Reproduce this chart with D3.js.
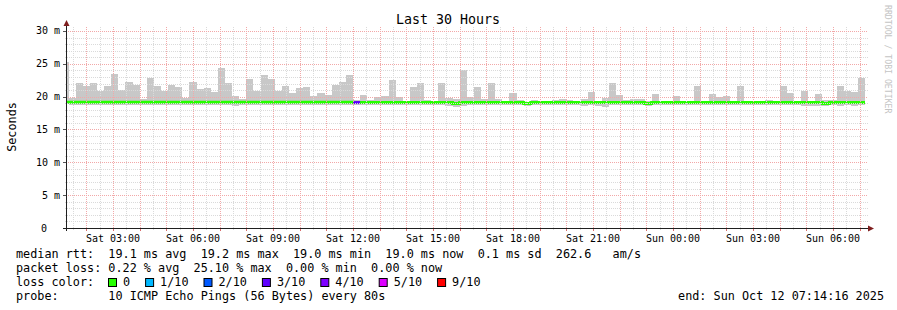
<!DOCTYPE html>
<html>
<head>
<meta charset="utf-8">
<script src="https://cdn.jsdelivr.net/npm/d3@7"></script>
<style>
  body { margin: 0; background: #fff; }
  svg text { font-family: "DejaVu Sans Mono", monospace; white-space: pre; }
</style>
</head>
<body>
<div id="chart"></div>
<script>
(function (d3) {
  'use strict';

  const width = 897;
  const height = 310;

  // time window and 16 minute consolidation bins
  const viewStart = new Date(2025, 9, 11, 1, 14, 16);
  const viewEnd = new Date(2025, 9, 12, 7, 14, 16);
  const binStart = new Date(2025, 9, 11, 1, 4, 0);
  const binMinutes = 16;

  // rtt in ms per bin
  const maxRtt = [25.3,
    19.84, 22.1, 21.6, 22.1, 20.9, 21.6, 23.45, 21.0, 22.2, 21.8,
    19.6, 22.9, 21.6, 20.9, 21.8, 21.5, 19.8, 22.2, 21.2, 21.3,
    20.7, 24.4, 22.1, 20.1, 19.7, 22.7, 20.9, 23.3, 22.7, 20.9,
    21.6, 20.6, 21.3, 21.5, 20.1, 20.6, 20.3, 21.8, 22.2, 23.3,
    19.5, 20.25, 19.5, 19.95, 20.1, 22.5, 19.95, 19.3, 21.5, 22.1,
    19.5, 19.3, 22.1, 19.8, 19.6, 24.1, 19.9, 21.5, 19.6, 22.1,
    19.6, 19.3, 20.6, 19.5, 19.2, 19.5, 19.3, 19.3, 19.5, 19.6,
    19.5, 19.3, 19.6, 20.7, 19.3, 19.8, 22.1, 20.25, 19.5, 19.6,
    19.6, 19.3, 20.4, 19.3, 19.2, 20.1, 19.3, 19.2, 21.6, 19.3,
    20.4, 19.95, 20.1, 19.3, 21.6, 19.3, 19.3, 19.2, 19.5, 19.2,
    21.6, 20.6, 19.2, 20.9, 19.3, 20.4, 19.5, 19.5, 21.6, 20.9,
    20.7, 22.8];

  const medianRtt = [19.15,
    19.15, 19.15, 19.15, 19.15, 19.15, 19.15, 19.15, 19.15, 19.15, 19.15,
    19.15, 19.15, 19.15, 19.15, 19.15, 19.15, 19.15, 19.15, 19.15, 19.15,
    19.15, 19.15, 19.15, 19.15, 19.15, 19.15, 19.15, 19.15, 19.15, 19.15,
    19.15, 19.15, 19.15, 19.15, 19.15, 19.15, 19.15, 19.15, 19.15, 19.15,
    19.1, 19.1, 19.1, 19.1, 19.1, 19.1, 19.1, 19.1, 19.1, 19.1,
    19.1, 19.1, 19.1, 19.1, 18.95, 19.1, 19.1, 19.1, 19.1, 19.1,
    19.1, 19.1, 19.1, 19.1, 18.95, 19.1, 19.1, 19.1, 19.1, 19.1,
    19.1, 19.1, 19.1, 19.1, 19.1, 19.1, 19.1, 19.1, 19.1, 19.1,
    19.1, 18.95, 19.1, 19.1, 19.1, 19.1, 19.1, 19.1, 19.1, 19.1,
    19.1, 19.1, 19.1, 19.1, 19.1, 19.1, 19.1, 19.1, 19.1, 19.1,
    19.1, 19.1, 19.1, 19.1, 19.1, 19.1, 18.95, 19.1, 19.1, 19.1,
    19.1, 19.1];

  const minRtt = [18.9,
    18.8, 18.75, 18.7, 18.8, 18.7, 18.75, 18.8, 18.7, 18.8, 18.7,
    18.75, 18.8, 18.7, 18.8, 18.75, 18.7, 18.8, 18.75, 18.8, 18.7,
    18.8, 18.75, 18.8, 18.6, 18.7, 18.8, 18.75, 18.8, 18.7, 18.8,
    18.7, 18.75, 18.8, 18.7, 18.75, 18.8, 18.7, 18.75, 18.8, 18.7,
    18.8, 18.75, 18.7, 18.8, 18.75, 18.7, 18.8, 18.75, 18.8, 18.7,
    18.75, 18.8, 18.7, 18.6, 18.35, 18.5, 18.75, 18.8, 18.7, 18.75,
    18.8, 18.7, 18.75, 18.8, 18.6, 18.75, 18.8, 18.7, 18.75, 18.8,
    18.7, 18.75, 18.6, 18.7, 18.5, 18.4, 18.75, 18.8, 18.7, 18.75,
    18.7, 18.5, 18.75, 18.8, 18.7, 18.75, 18.8, 18.75, 18.8, 18.7,
    18.75, 18.8, 18.7, 18.75, 18.8, 18.75, 18.8, 18.7, 18.75, 18.8,
    18.75, 18.7, 18.8, 18.6, 18.65, 18.6, 18.5, 18.7, 18.6, 18.75,
    18.6, 18.7];

  // packet loss in percent per bin
  const lossPct = [0,
    0, 0, 0, 0, 0, 0, 0, 0, 0, 0,
    0, 0, 0, 0, 0, 0, 0, 0, 0, 0,
    0, 0, 0, 0, 0, 0, 0, 0, 0, 0,
    0, 0, 0, 0, 0, 0, 0, 0, 0, 0,
    25.1, 0, 0, 0, 0, 0, 0, 0, 0, 0,
    0, 0, 0, 0, 0, 0, 0, 0, 0, 0,
    0, 0, 0, 0, 0, 0, 0, 0, 0, 0,
    0, 0, 0, 0, 0, 0, 0, 0, 0, 0,
    0, 0, 0, 0, 0, 0, 0, 0, 0, 0,
    0, 0, 0, 0, 0, 0, 0, 0, 0, 0,
    0, 0, 0, 0, 0, 0, 0, 0, 0, 0,
    0, 0];

  const yTicks = [0, 5, 10, 15, 20, 25, 30];
  const yMax = 30.45;

  const lossLegend = [
    { tenths: 0, label: '0', color: '#26ff00' },
    { tenths: 1, label: '1/10', color: '#00b8ff' },
    { tenths: 2, label: '2/10', color: '#0059ff' },
    { tenths: 3, label: '3/10', color: '#5e00ff' },
    { tenths: 4, label: '4/10', color: '#7e00ff' },
    { tenths: 5, label: '5/10', color: '#dd00ff' },
    { tenths: 9, label: '9/10', color: '#ff0000' }
  ];

  const statLines = [
    'median rtt:  19.1 ms avg  19.2 ms max  19.0 ms min  19.0 ms now  0.1 ms sd  262.6   am/s',
    'packet loss: 0.22 % avg  25.10 % max  0.00 % min  0.00 % now'
  ];
  const probeLine = 'probe:       10 ICMP Echo Pings (56 Bytes) every 80s';
  const endLine = 'end: Sun Oct 12 07:14:16 2025';

  const gridColor = '#dadada';
  const mgridColor = '#f2a8a8';
  const tickColor = '#d86a6a';
  const axisColor = '#1f1f1f';
  const arrowColor = '#7f1f1f';

  const left = 66, right = 866, bottom = 228, top = 28;

  const x = d3.scaleTime().domain([viewStart, viewEnd]).range([left, right]);
  const y = d3.scaleLinear().domain([0, yMax]).range([bottom, top]);

  const svg = d3.select('#chart')
    .append('svg')
    .attr('width', width)
    .attr('height', height);

  svg.append('rect').attr('width', width).attr('height', height).attr('fill', '#fff');

  svg.append('clipPath').attr('id', 'plot')
    .append('rect')
    .attr('x', left).attr('y', top)
    .attr('width', right - left).attr('height', bottom - top);

  const bins = maxRtt.map((v, i) => ({
    t0: d3.timeMinute.offset(binStart, i * binMinutes),
    t1: d3.timeMinute.offset(binStart, (i + 1) * binMinutes),
    max: v,
    min: minRtt[i],
    median: medianRtt[i],
    loss: lossPct[i]
  }));

  const lossColor = (pct) => {
    const lost = Math.ceil(pct / 10 - 1e-9);
    const item = lossLegend.find((d) => d.tenths >= lost) || lossLegend[lossLegend.length - 1];
    return item.color;
  };

  // smoke
  const plot = svg.append('g').attr('clip-path', 'url(#plot)');
  plot.selectAll('rect.smoke')
    .data(bins)
    .enter()
    .append('rect')
    .attr('class', 'smoke')
    .attr('x', (d) => x(d.t0))
    .attr('width', (d) => x(d.t1) - x(d.t0))
    .attr('y', (d) => y(d.max))
    .attr('height', (d) => y(d.min) - y(d.max))
    .attr('fill', '#c8c8c8')
    .attr('shape-rendering', 'crispEdges');

  // grid
  const grid = svg.append('g').attr('shape-rendering', 'crispEdges');
  const minorY = d3.range(1, 31).filter((v) => v % 5 !== 0);
  grid.selectAll('line.ymin')
    .data(minorY)
    .enter()
    .append('line')
    .attr('x1', left - 1).attr('x2', right + 2)
    .attr('y1', (d) => Math.round(y(d)) + 0.5)
    .attr('y2', (d) => Math.round(y(d)) + 0.5)
    .attr('stroke', gridColor)
    .attr('stroke-dasharray', '1,1');

  const halfHours = d3.timeMinute.every(30).range(viewStart, viewEnd)
    .filter((t) => t.getMinutes() !== 0);
  grid.selectAll('line.xmin')
    .data(halfHours)
    .enter()
    .append('line')
    .attr('x1', (d) => Math.round(x(d)) + 0.5)
    .attr('x2', (d) => Math.round(x(d)) + 0.5)
    .attr('y1', bottom + 2).attr('y2', top - 2)
    .attr('stroke', gridColor)
    .attr('stroke-dasharray', '1,1');

  grid.selectAll('line.ymaj')
    .data(yTicks.filter((v) => v > 0))
    .enter()
    .append('line')
    .attr('x1', left).attr('x2', right + 2)
    .attr('y1', (d) => Math.round(y(d)) + 0.5)
    .attr('y2', (d) => Math.round(y(d)) + 0.5)
    .attr('stroke', mgridColor)
    .attr('stroke-dasharray', '1,1');

  const hours = d3.timeHour.range(viewStart, viewEnd);
  grid.selectAll('line.xmaj')
    .data(hours)
    .enter()
    .append('line')
    .attr('x1', (d) => Math.round(x(d)) + 0.5)
    .attr('x2', (d) => Math.round(x(d)) + 0.5)
    .attr('y1', bottom).attr('y2', top - 2)
    .attr('stroke', mgridColor)
    .attr('stroke-dasharray', '1,1');

  grid.selectAll('line.xtick')
    .data(hours)
    .enter()
    .append('line')
    .attr('x1', (d) => Math.round(x(d)) + 0.5)
    .attr('x2', (d) => Math.round(x(d)) + 0.5)
    .attr('y1', bottom).attr('y2', bottom + 3)
    .attr('stroke', tickColor);

  grid.selectAll('line.ytick')
    .data(yTicks.filter((v) => v > 0))
    .enter()
    .append('line')
    .attr('x1', left - 3).attr('x2', left)
    .attr('y1', (d) => Math.round(y(d)) + 0.5)
    .attr('y2', (d) => Math.round(y(d)) + 0.5)
    .attr('stroke', '#555');

  // median line, coloured by loss
  const stepPoints = [];
  bins.forEach((d) => {
    stepPoints.push([x(d.t0), y(d.median)]);
    stepPoints.push([x(d.t1), y(d.median)]);
  });
  const line = d3.line();
  plot.append('path')
    .attr('d', line(stepPoints))
    .attr('fill', 'none')
    .attr('stroke', lossLegend[0].color)
    .attr('stroke-width', 3);

  plot.selectAll('line.loss')
    .data(bins.filter((d) => d.loss > 0))
    .enter()
    .append('line')
    .attr('x1', (d) => x(d.t0)).attr('x2', (d) => x(d.t1))
    .attr('y1', (d) => y(d.median)).attr('y2', (d) => y(d.median))
    .attr('stroke', (d) => lossColor(d.loss))
    .attr('stroke-width', 3);

  // axes
  svg.append('line')
    .attr('x1', left - 3).attr('x2', right + 3)
    .attr('y1', bottom + 0.5).attr('y2', bottom + 0.5)
    .attr('stroke', axisColor);
  svg.append('line')
    .attr('x1', left + 0.5).attr('x2', left + 0.5)
    .attr('y1', bottom + 3).attr('y2', top - 3)
    .attr('stroke', axisColor);
  svg.append('path')
    .attr('d', `M${right + 2},${bottom - 2.5}L${right + 8},${bottom + 0.5}L${right + 2},${bottom + 3.5}Z`)
    .attr('fill', arrowColor);
  svg.append('path')
    .attr('d', `M${left - 2.5},${top - 2}L${left + 0.5},${top - 8}L${left + 3.5},${top - 2}Z`)
    .attr('fill', arrowColor);

  svg.selectAll('text.ylab')
    .data(yTicks)
    .enter()
    .append('text')
    .attr('x', (d) => d === 0 ? 47 : 60)
    .attr('y', (d) => y(d) + 3.5)
    .attr('text-anchor', 'end')
    .style('font-size', '10px')
    .text((d) => d === 0 ? '0' : d + ' m');

  svg.selectAll('text.xlab')
    .data(d3.timeHour.every(3).range(viewStart, viewEnd))
    .enter()
    .append('text')
    .attr('x', (d) => x(d))
    .attr('y', 241.5)
    .attr('text-anchor', 'middle')
    .style('font-size', '10px')
    .text(d3.timeFormat('%a %H:%M'));

  // titles
  svg.append('text')
    .attr('x', 448).attr('y', 24)
    .attr('text-anchor', 'middle')
    .style('font-size', '13.3px')
    .text('Last 30 Hours');

  svg.append('text')
    .attr('transform', 'translate(15.5,127) rotate(-90)')
    .attr('text-anchor', 'middle')
    .style('font-size', '11.8px')
    .text('Seconds');

  svg.append('text')
    .attr('transform', 'translate(885,5) rotate(90)')
    .attr('text-anchor', 'start')
    .style('font-size', '8.2px')
    .attr('fill', '#c4c4c4')
    .text('RRDTOOL / TOBI OETIKER');

  // legend
  const legendFont = '11.8px';
  const charW = 7.1;
  statLines.forEach((s, i) => {
    svg.append('text')
      .attr('x', 16).attr('y', 258 + i * 14)
      .style('font-size', legendFont)
      .text(s);
  });

  svg.append('text')
    .attr('x', 16).attr('y', 286)
    .style('font-size', legendFont)
    .text('loss color:');

  let lx = 108.5;
  lossLegend.forEach((d) => {
    svg.append('rect')
      .attr('x', lx).attr('y', 278.5)
      .attr('width', 8).attr('height', 8)
      .attr('fill', d.color)
      .attr('stroke', '#000');
    svg.append('text')
      .attr('x', lx + 14.5).attr('y', 286)
      .style('font-size', legendFont)
      .text(d.label);
    lx = lx + 14.5 + d.label.length * charW + 15.5;
  });

  svg.append('text')
    .attr('x', 16).attr('y', 300)
    .style('font-size', legendFont)
    .text(probeLine);

  svg.append('text')
    .attr('x', 884).attr('y', 300)
    .attr('text-anchor', 'end')
    .style('font-size', legendFont)
    .text(endLine);

}(d3));
</script>
</body>
</html>
